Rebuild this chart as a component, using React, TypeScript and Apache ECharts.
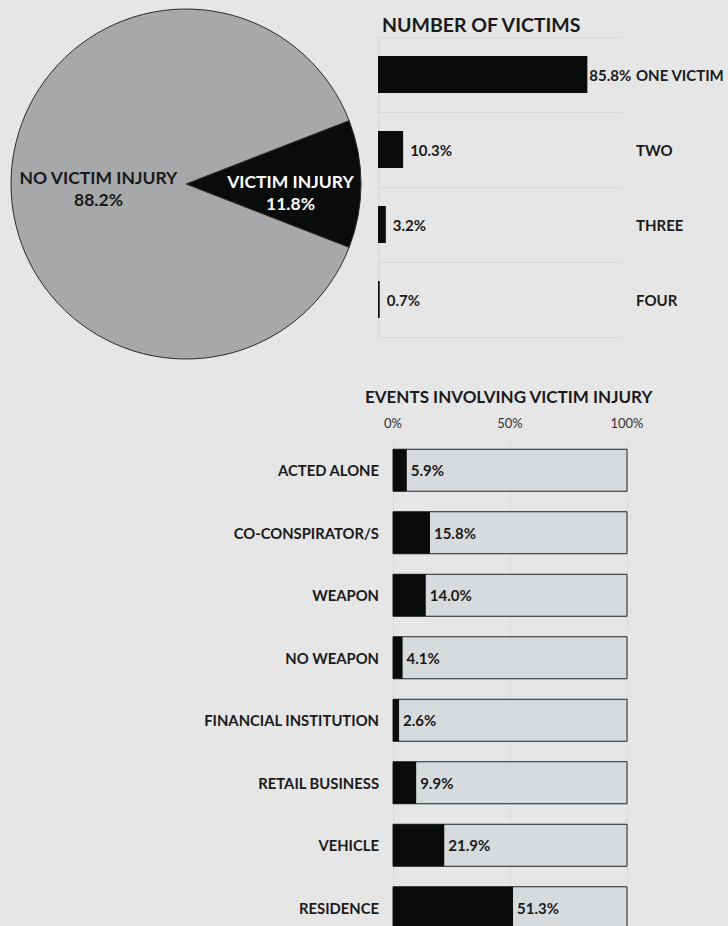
import React, { useEffect, useRef } from "react";
import * as echarts from "echarts";

const pieNames = ["VICTIM INJURY", "NO VICTIM INJURY"];
const pieValues = [11.8, 88.2];

const victimCats = ["ONE VICTIM", "TWO", "THREE", "FOUR"];
const victimValues = [85.8, 10.3, 3.2, 0.7];

const eventCats = [
  "ACTED ALONE",
  "CO-CONSPIRATOR/S",
  "WEAPON",
  "NO WEAPON",
  "FINANCIAL INSTITUTION",
  "RETAIL BUSINESS",
  "VEHICLE",
  "RESIDENCE",
];
const eventValues = [5.9, 15.8, 14.0, 4.1, 2.6, 9.9, 21.9, 51.3];

const FONT = "Lato";
const BG = "#e6e6e6";
const BLACK = "#0a0b0b";
const PIE_GRAY = "#a6a8aa";
const LIGHT = "#d8dbdd";
const GRID_LINE = "#d7dadd";
const TEXT = "#1a1a1a";

export default function App() {
  const ref = useRef<HTMLDivElement>(null);
  useEffect(() => {
    if (!ref.current) return;
    document.body.style.overflow = "hidden";
    const chart = echarts.init(ref.current, null, { renderer: "svg" });
    const option: any = {
      animation: false,
      backgroundColor: BG,
      textStyle: { fontFamily: FONT },
      title: [
        {
          text: "NUMBER OF VICTIMS",
          left: 382,
          top: 14,
          padding: 0,
          textStyle: { fontFamily: FONT, fontWeight: "bold", fontSize: 19.5, color: TEXT },
        },
        {
          text: "EVENTS INVOLVING VICTIM INJURY",
          left: 365,
          top: 388,
          padding: 0,
          textStyle: { fontFamily: FONT, fontWeight: "bold", fontSize: 17, color: TEXT },
        },
      ],
      grid: [
        { left: 378, top: 37, width: 244, height: 300 },
        { left: 393, top: 439, width: 234, height: 500 },
      ],
      xAxis: [
        { gridIndex: 0, type: "value", min: 0, max: 100, show: false },
        {
          gridIndex: 1,
          type: "value",
          min: 0,
          max: 100,
          interval: 50,
          position: "top",
          axisLine: { show: false },
          axisTick: { show: false },
          axisLabel: {
            formatter: "{value}%",
            color: "#333",
            fontSize: 13,
            fontFamily: FONT,
            margin: 10,
          },
          splitLine: { show: true, lineStyle: { color: GRID_LINE, width: 1 } },
        },
      ],
      yAxis: [
        {
          gridIndex: 0,
          type: "category",
          inverse: true,
          data: victimCats,
          position: "right",
          axisLine: { show: false },
          axisTick: { show: false },
          axisLabel: {
            align: "left",
            margin: 14,
            fontFamily: FONT,
            fontWeight: "bold",
            fontSize: 15,
            color: TEXT,
          },
          splitLine: { show: true, lineStyle: { color: GRID_LINE, width: 1 } },
        },
        {
          gridIndex: 0,
          type: "category",
          inverse: true,
          data: victimCats,
          position: "left",
          axisLine: { show: true, lineStyle: { color: GRID_LINE, width: 1 } },
          axisTick: { show: false },
          axisLabel: { show: false },
          splitLine: { show: false },
        },
        {
          gridIndex: 1,
          type: "category",
          inverse: true,
          data: eventCats,
          axisLine: { show: false },
          axisTick: { show: false },
          axisLabel: {
            margin: 14,
            fontFamily: FONT,
            fontWeight: "bold",
            fontSize: 14.8,
            color: TEXT,
          },
        },
      ],
      series: [
        {
          type: "pie",
          center: [186, 184],
          radius: 175,
          startAngle: 21.24,
          clockwise: true,
          itemStyle: { borderColor: "#2a2a2a", borderWidth: 1 },
          label: {
            show: true,
            position: "inside",
            fontFamily: FONT,
            fontWeight: "bold",
            fontSize: 17.5,
            lineHeight: 22,
            formatter: (p: any) => `${p.name}\n${p.value}%`,
          },
          labelLine: { show: false },
          data: pieNames.map((n, i) => ({
            name: n,
            value: pieValues[i],
            itemStyle: { color: i === 0 ? BLACK : PIE_GRAY },
            label:
              i === 0
                ? { color: "#ffffff", offset: [14, 8] }
                : { color: TEXT, offset: [3, 4] },
          })),
        },
        {
          type: "bar",
          xAxisIndex: 0,
          yAxisIndex: 0,
          barWidth: 37,
          itemStyle: { color: BLACK },
          label: {
            show: true,
            position: "right",
            distance: 7,
            formatter: "{c}%",
            fontFamily: FONT,
            fontWeight: "bold",
            fontSize: 15,
            color: TEXT,
          },
          data: victimValues.map((v, i) => ({
            value: v,
            label: i === 0 ? { distance: 2 } : undefined,
          })),
        },
        {
          type: "bar",
          xAxisIndex: 1,
          yAxisIndex: 2,
          barWidth: 42,
          showBackground: true,
          backgroundStyle: { color: LIGHT, borderColor: "#222", borderWidth: 1 },
          itemStyle: { color: BLACK },
          label: {
            show: true,
            position: "right",
            distance: 4,
            formatter: (p: any) => `${p.value.toFixed(1)}%`,
            fontFamily: FONT,
            fontWeight: "bold",
            fontSize: 15,
            color: TEXT,
          },
          data: eventValues,
        },
      ],
    };
    chart.setOption(option);
    return () => chart.dispose();
  }, []);
  return (
    <div
      ref={ref}
      style={{ position: "fixed", left: 0, top: 0, width: 728, height: 960 }}
    />
  );
}
